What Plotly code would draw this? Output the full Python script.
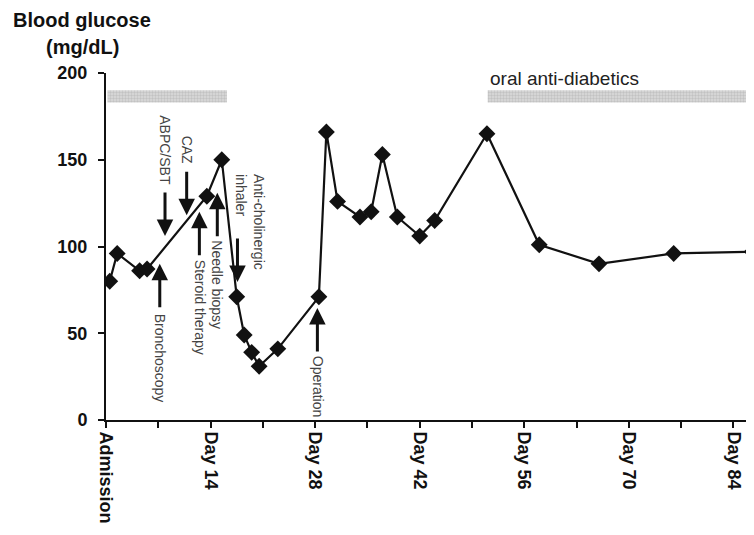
import plotly.graph_objects as go

# ---- data ----
days = [0.5, 1.5, 4.5, 5.5, 13.5, 15.5, 17.5, 18.5, 19.5, 20.5, 23, 28.5, 29.5, 31,
        34, 35.5, 37, 39, 42, 44, 51, 58, 66, 76, 86.5]
glucose = [80, 96, 86, 87, 129, 150, 71, 49, 39, 31, 41, 71, 166, 126,
           117, 120, 153, 117, 106, 115, 165, 101, 90, 96, 97]

tick_days = [0, 14, 28, 42, 56, 70, 84]
tick_labels = ["Admission", "Day 14", "Day 28", "Day 42", "Day 56", "Day 70", "Day 84"]
y_ticks = [0, 50, 100, 150, 200]

events = ["ABPC/SBT", "CAZ", "Steroid therapy", "Needle biopsy",
          "Anti-cholinergic<br>inhaler", "Bronchoscopy", "Operation"]
event_days = [7.9, 10.8, 12.5, 14.9, 17.6, 7.2, 28.3]

therapy_labels = ["", "oral anti-diabetics"]
therapy_start = [0.2, 51.1]
therapy_end = [16.2, 87.0]

# ---- layout helpers (positions / styles) ----
arrow_tip_y = [106, 118, 120, 131, 79.5, 90, 64.5]
arrow_dir = [-1, -1, 1, 1, -1, 1, 1]          # -1: pointing down, 1: pointing up
text_x = [7.9, 10.8, 12.5, 14.9, 19.3, 7.2, 28.3]
text_y = [155.5, 156, 65, 78, 114, 35.5, 19.5]

FONT = "Liberation Sans, Arial, sans-serif"

fig = go.Figure()

# therapy periods as textured horizontal bars
fig.add_trace(go.Bar(
    orientation="h",
    y=[186.5] * len(therapy_start),
    base=therapy_start,
    x=[e - s for s, e in zip(therapy_start, therapy_end)],
    width=7,
    marker=dict(color="#dcdcdc", line=dict(width=0),
                pattern=dict(shape=".", fgcolor="#a8a8a8", bgcolor="#dcdcdc",
                             size=3, solidity=0.5)),
    showlegend=False, hoverinfo="skip"
))

fig.add_trace(go.Scatter(
    x=days, y=glucose, mode="lines+markers",
    line=dict(color="#111111", width=2.2),
    marker=dict(symbol="diamond", size=13, color="#111111"),
    showlegend=False, hoverinfo="skip"
))

annotations = []
for name, d, tip, dr, tx, ty in zip(events, event_days, arrow_tip_y, arrow_dir, text_x, text_y):
    annotations.append(dict(x=d, y=tip, xref="x", yref="y", text="", showarrow=True,
                            ax=0, ay=45 * dr, arrowhead=2, arrowsize=1.1, arrowwidth=3,
                            arrowcolor="#111111"))
    annotations.append(dict(x=tx, y=ty, xref="x", yref="y", text=name, showarrow=False,
                            textangle=90, align="left",
                            font=dict(family=FONT, size=14, color="#444444")))

for lbl, s in zip(therapy_labels, therapy_start):
    if lbl:
        annotations.append(dict(x=s, y=197, xref="x", yref="y", text=lbl, showarrow=False,
                                xanchor="left", yanchor="middle",
                                font=dict(family=FONT, size=19, color="#222222")))

annotations.append(dict(x=-0.037, y=1.153, xref="paper", yref="paper", text="<b>Blood glucose</b>",
                        showarrow=False, xanchor="center", yanchor="middle",
                        font=dict(family=FONT, size=20, color="#111111")))
annotations.append(dict(x=-0.037, y=1.075, xref="paper", yref="paper", text="<b>(mg/dL)</b>",
                        showarrow=False, xanchor="center", yanchor="middle",
                        font=dict(family=FONT, size=20, color="#111111")))

# the page body adds an 8px offset, so the figure is sized/margined to compensate
fig.update_layout(
    width=746, height=527,
    margin=dict(l=98, r=0, t=65, b=115),
    plot_bgcolor="white", paper_bgcolor="white",
    annotations=annotations,
    font=dict(family=FONT, color="#111111"),
    xaxis=dict(range=[0, 86.75], showgrid=False, zeroline=False, automargin=False,
               showline=True, linecolor="#111111", linewidth=2,
               ticks="outside", ticklen=6, tickwidth=2, tickcolor="#111111",
               tickvals=tick_days, ticktext=[f"<b>{t}</b>" for t in tick_labels],
               tickangle=90, tickfont=dict(family=FONT, size=18, color="#111111"),
               minor=dict(dtick=7, tick0=0, ticks="outside", ticklen=6, tickwidth=2,
                          tickcolor="#111111", showgrid=False)),
    yaxis=dict(range=[0, 200], showgrid=False, zeroline=False, automargin=False,
               showline=True, linecolor="#111111", linewidth=2,
               ticks="outside", ticklen=6, tickwidth=2, tickcolor="#111111",
               tickvals=y_ticks, ticktext=[f"<b>{v}</b>" for v in y_ticks],
               tickfont=dict(family=FONT, size=18, color="#111111"),
               ticklabelstandoff=7),
)

fig.write_html("out.html")
